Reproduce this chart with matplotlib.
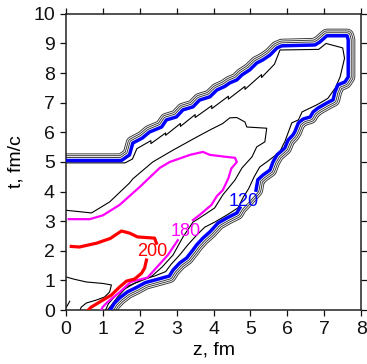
import matplotlib
matplotlib.use('Agg')
import matplotlib.pyplot as plt
import matplotlib.patheffects as pe

# isotherms in the (z, t) plane, temperatures in MeV

# T = 120, upper/right part (ends at the inline label)
z120_a = [0.0, 1.5, 1.72, 1.81, 2.07, 2.26, 2.59, 2.72, 2.99, 3.17, 3.44, 3.62, 3.9, 4.09,
          4.3, 4.44, 4.63, 4.77, 4.98, 5.17, 5.34, 5.53, 5.72, 5.85, 6.75, 6.88, 7.07, 7.62,
          7.65, 7.65, 7.56, 7.37, 7.29, 7.24, 7.07, 6.83, 6.7, 6.62, 6.43, 6.3, 6.2, 6.15,
          6.02, 5.93, 5.72, 5.61, 5.53, 5.34, 5.2, 5.15]
t120_a = [5.05, 5.05, 5.24, 5.64, 5.81, 6.01, 6.18, 6.42, 6.52, 6.76, 6.86, 7.09, 7.2, 7.43,
          7.55, 7.67, 7.77, 7.94, 8.11, 8.34, 8.45, 8.61, 8.85, 8.92, 8.95, 9.05, 9.26, 9.26,
          9.12, 7.87, 7.7, 7.6, 7.36, 7.1, 6.99, 6.82, 6.69, 6.52, 6.45, 6.32, 6.01, 5.91,
          5.74, 5.47, 5.24, 5.0, 4.73, 4.56, 4.4, 4.05]
# T = 120, lower part
z120_b = [4.71, 4.63, 4.36, 4.12, 3.9, 3.71, 3.54, 3.44, 3.27, 3.08, 2.9, 2.8, 2.45, 2.15,
          1.9, 1.67, 1.45, 1.3, 1.2]
t120_b = [3.45, 3.28, 3.11, 2.94, 2.64, 2.43, 2.2, 2.03, 1.76, 1.59, 1.35, 1.15, 1.03, 0.93,
          0.76, 0.62, 0.41, 0.22, 0.0]

# T = 140, thin line just inside the 120 isotherm
z140 = [0.0, 1.6, 1.8, 1.92, 2.3, 2.3, 2.7, 2.7, 3.1, 3.1, 3.5, 3.5, 3.95, 3.95, 4.4, 4.4,
        4.85, 4.85, 5.3, 5.3, 5.65, 5.8, 6.85, 7.05, 7.5, 7.55, 7.43, 7.3, 7.1,
        6.94, 6.8, 6.4, 6.3, 6.12, 5.93, 5.88, 5.8, 5.44, 5.25, 5.1, 4.95, 4.8, 4.66, 4.36,
        4.03, 3.76, 3.54, 3.3, 3.08, 2.85, 2.7, 2.4, 2.1, 1.85, 1.6, 1.4, 1.25, 1.12]
t140 = [4.97, 4.97, 5.1, 5.45, 5.72, 5.62, 5.98, 5.9, 6.3, 6.2, 6.6, 6.5, 6.9, 6.8, 7.22, 7.12,
        7.55, 7.45, 7.95, 7.85, 8.3, 8.78, 8.8, 9.0, 8.85, 8.5, 7.87, 7.5, 7.15,
        7.03, 6.93, 6.69, 6.42, 6.32, 5.68, 5.57, 5.34, 5.0, 4.83, 4.5, 4.1, 3.8, 3.45, 3.21,
        2.97, 2.8, 2.53, 2.2, 1.86, 1.55, 1.3, 1.15, 1.05, 0.9, 0.72, 0.45, 0.2, 0.0]

# T = 160
z160 = [0.0, 0.69, 1.18, 1.72, 1.81, 2.35, 2.9, 3.54, 3.9, 4.25, 4.44, 4.63, 4.85, 4.9, 5.44,
        5.39, 5.17, 5.04, 4.77, 4.58, 4.25, 4.03, 3.62, 3.44, 3.17, 2.9, 2.6, 2.3, 1.95,
        1.65, 1.35, 1.15, 1.07]
t160 = [3.37, 3.28, 3.65, 4.29, 4.43, 5.0, 5.4, 5.84, 6.08, 6.3, 6.49, 6.5, 6.35, 6.18, 6.14,
        5.68, 5.51, 5.17, 4.8, 4.39, 3.89, 3.45, 3.11, 2.97, 2.47, 1.86, 1.45, 1.12, 0.95,
        0.8, 0.5, 0.22, 0.0]

# T = 160, small pocket near the origin
z160_low = [0.0, 0.23, 0.55, 1.0, 1.23, 1.18, 1.04, 0.82, 0.55, 0.41, 0.38]
t160_low = [1.12, 1.04, 0.95, 0.9, 0.85, 0.61, 0.44, 0.34, 0.24, 0.1, 0.0]
z160_edge = [0.0, 0.1]
t160_edge = [0.08, 0.3]

# T = 180, split by its label
z180_a = [0.07, 0.64, 1.0, 1.45, 2.0, 2.54, 2.81, 3.36, 3.71, 3.9, 4.36, 4.58, 4.63, 4.48,
          4.4, 4.25, 4.09, 3.94, 3.62, 3.44]
t180_a = [3.07, 3.07, 3.2, 3.55, 4.16, 4.8, 5.0, 5.24, 5.34, 5.24, 5.17, 5.14, 5.0, 4.78,
          4.45, 4.05, 3.85, 3.55, 3.21, 3.04]
z180_b = [3.03, 2.76, 2.21, 1.75, 1.45, 1.12, 0.99, 0.95]
t180_b = [2.36, 1.86, 1.1, 0.95, 0.6, 0.27, 0.1, 0.0]

# T = 200, split by its label
z200_a = [0.14, 0.36, 0.83, 1.2, 1.5, 1.72, 1.94, 2.4, 2.45]
t200_a = [2.15, 2.13, 2.26, 2.42, 2.67, 2.6, 2.47, 2.43, 2.26]
z200_b = [2.18, 2.13, 2.05, 1.86, 1.64, 1.45, 1.23, 1.0, 0.68, 0.6]
t200_b = [1.69, 1.42, 1.25, 1.05, 0.98, 0.78, 0.51, 0.34, 0.1, 0.0]

labels = ['120', '180', '200']
label_z = [4.82, 3.25, 2.35]
label_t = [3.65, 2.65, 1.98]
label_colors = ['#0000ff', '#ff00ff', '#ff0000']

plt.rcParams['font.family'] = ['Liberation Sans', 'DejaVu Sans']

fig = plt.figure(figsize=(3.67, 3.64), dpi=100)
ax = fig.add_axes([0.180, 0.148, 0.804, 0.814])

# the lower isotherms hug the 120 line from outside: draw them as parallel strokes
# and blank out the inner side afterwards
z_full = z120_a + z120_b
t_full = t120_a + t120_b
tracos = [pe.Stroke(linewidth=10.2, foreground='#333333'),
          pe.Stroke(linewidth=8.9, foreground='white'),
          pe.Stroke(linewidth=7.6, foreground='#333333'),
          pe.Stroke(linewidth=6.3, foreground='white'),
          pe.Stroke(linewidth=5.0, foreground='#333333'),
          pe.Stroke(linewidth=3.7, foreground='white')]
ax.plot(z_full, t_full, color='black', linewidth=1, path_effects=tracos, zorder=1)
ax.fill(z_full + [0.0], t_full + [0.0], color='white', zorder=1.5, linewidth=0)

fino = dict(color='black', linewidth=0.8, zorder=2)
ax.plot(z140, t140, **fino)
ax.plot(z160, t160, **fino)
ax.plot(z160_low, t160_low, **fino)
ax.plot(z160_edge, t160_edge, **fino)

ax.plot(z180_a, t180_a, color='#ff00ff', linewidth=1.6, zorder=3)
ax.plot(z180_b, t180_b, color='#ff00ff', linewidth=1.6, zorder=3)
ax.plot(z200_a, t200_a, color='#ff0000', linewidth=2.3, zorder=3)
ax.plot(z200_b, t200_b, color='#ff0000', linewidth=2.3, zorder=3)
ax.plot(z120_a, t120_a, color='#0000ff', linewidth=2.5, zorder=4)
ax.plot(z120_b, t120_b, color='#0000ff', linewidth=2.5, zorder=4)

for txt, zz, tt, cor in zip(labels, label_z, label_t, label_colors):
    ax.text(zz, tt, txt, color=cor, fontsize=13, ha='center', va='center', zorder=5)

ax.set_xlim(0, 8)
ax.set_ylim(0, 10)
ax.set_xticks(range(0, 9))
ax.set_yticks(range(0, 11))
ax.tick_params(direction='out', length=4.5, width=0.9, labelsize=14, pad=3.5,
               top=True, right=True, colors='#111111')
for lado in ax.spines.values():
    lado.set_linewidth(1.1)
    lado.set_color('#222222')
ax.set_xlabel('z, fm', fontsize=14, labelpad=2)
ax.set_ylabel('t, fm/c', fontsize=14, labelpad=6)

fig.savefig('out.png', dpi=100)
